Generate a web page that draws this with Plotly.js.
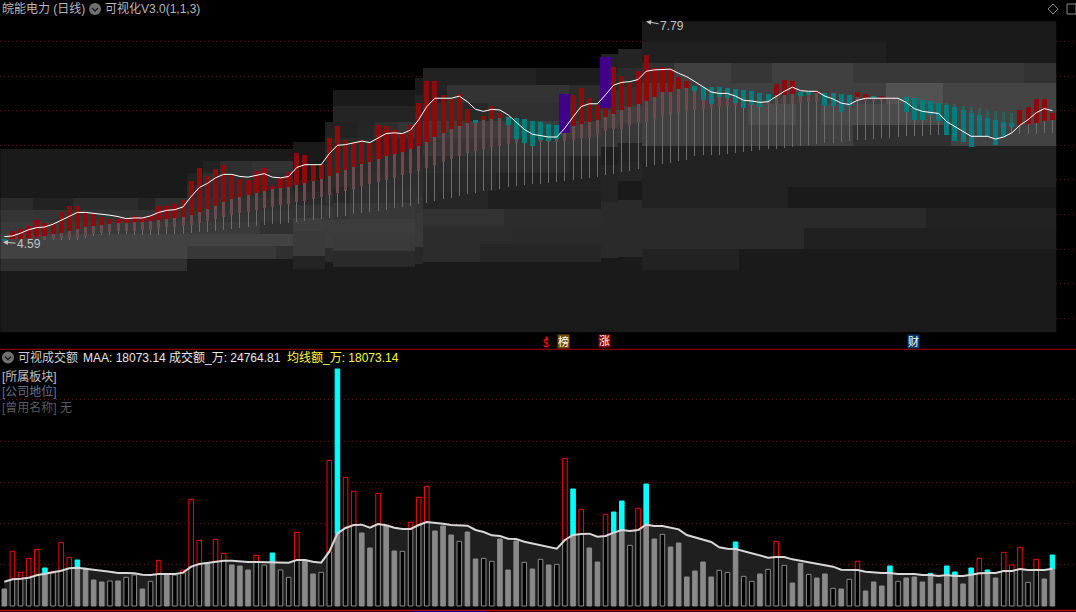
<!DOCTYPE html>
<html><head><meta charset="utf-8">
<script src="https://cdn.plot.ly/plotly-3.0.1.min.js"></script>
<style>html,body{margin:0;padding:0;background:#000;overflow:hidden}</style>
</head><body><div id="chart" style="width:1076px;height:612px"></div>
<script>
const bodyHigh=[4.65,4.76,4.79,4.83,4.92,4.88,4.88,5.04,5.12,5.12,
5.02,5.01,4.96,4.94,4.94,4.94,4.98,4.96,4.99,5.12,
5.12,5.15,5.21,5.48,5.67,5.56,5.66,5.72,5.57,5.51,
5.50,5.63,5.67,5.41,5.53,5.61,5.89,5.86,5.72,5.73,
6.11,6.28,6.08,6.05,6.08,6.03,6.29,6.28,6.22,6.18,
6.29,6.61,6.93,6.93,6.73,6.67,6.74,6.52,6.37,6.42,
6.57,6.47,6.41,6.39,6.38,6.35,6.34,6.31,6.29,6.74,
6.73,6.83,6.68,6.58,7.28,7.13,7.00,6.90,7.07,7.31,
7.12,7.13,7.10,6.99,6.93,6.86,6.84,6.84,6.84,6.83,
6.81,6.80,6.78,6.76,6.74,6.89,6.94,6.93,6.77,6.77,
6.78,6.76,6.76,6.74,6.73,6.77,6.74,6.71,6.71,6.68,
6.68,6.70,6.68,6.65,6.64,6.61,6.58,6.55,6.51,6.47,
6.44,6.39,6.37,6.34,6.32,6.51,6.55,6.67,6.67,6.47];
const bodyLow=[4.62,4.65,4.65,4.66,4.68,4.69,4.72,4.73,4.76,4.79,
4.82,4.83,4.85,4.86,4.88,4.88,4.89,4.89,4.91,4.92,
4.94,4.95,4.96,4.99,5.04,5.08,5.12,5.18,5.22,5.25,
5.28,5.31,5.34,5.37,5.38,5.40,5.43,5.46,5.48,5.51,
5.56,5.60,5.64,5.69,5.73,5.76,5.80,5.85,5.87,5.90,
5.95,5.99,6.05,6.12,6.18,6.24,6.28,6.32,6.32,6.37,
6.38,6.39,6.29,6.09,6.03,5.99,6.08,6.06,6.09,6.18,
6.28,6.31,6.34,6.37,6.41,6.45,6.51,6.55,6.60,6.64,
6.70,6.77,6.77,6.81,6.83,6.78,6.65,6.60,6.70,6.68,
6.61,6.54,6.58,6.55,6.64,6.73,6.73,6.74,6.71,6.73,
6.76,6.57,6.57,6.48,6.57,6.70,6.68,6.68,6.68,6.67,
6.67,6.48,6.37,6.37,6.44,6.35,6.15,6.06,6.05,5.98,
6.12,6.12,6.00,6.12,6.26,6.29,6.31,6.32,6.35,6.37];
const shadowLow=[4.62,4.65,4.65,4.66,4.68,4.63,4.65,4.66,4.66,4.66,
4.69,4.72,4.73,4.75,4.76,4.76,4.76,4.78,4.78,4.81,
4.82,4.82,4.83,4.85,4.88,4.91,4.94,4.96,4.99,5.02,
5.04,5.07,5.09,5.11,5.14,5.15,5.18,5.20,5.22,5.25,
5.28,5.31,5.34,5.37,5.41,5.44,5.47,5.50,5.53,5.57,
5.60,5.63,5.67,5.72,5.76,5.80,5.85,5.89,5.92,5.95,
5.98,5.99,6.02,6.03,6.03,5.99,6.05,6.05,6.05,6.06,
6.08,6.11,6.12,6.15,6.21,6.24,6.24,6.28,6.34,6.34,
6.38,6.41,6.44,6.47,6.50,6.51,6.52,6.54,6.55,6.57,
6.57,6.54,6.58,6.55,6.58,6.58,6.60,6.60,6.61,6.63,
6.63,6.57,6.57,6.48,6.57,6.65,6.64,6.64,6.64,6.64,
6.67,6.48,6.37,6.37,6.44,6.35,6.15,6.06,6.05,5.98,
6.12,6.12,6.00,6.12,6.26,6.29,6.31,6.32,6.35,6.37];
const wickLow=[4.62,4.65,4.65,4.66,4.68,4.63,4.63,4.63,4.63,4.63,
4.66,4.69,4.70,4.70,4.72,4.72,4.70,4.70,4.70,4.70,
4.72,4.72,4.72,4.73,4.75,4.75,4.76,4.78,4.79,4.81,
4.82,4.83,4.85,4.86,4.86,4.88,4.89,4.91,4.92,4.94,
4.95,4.96,4.98,5.01,5.02,5.04,5.05,5.07,5.09,5.11,
5.12,5.15,5.17,5.19,5.22,5.24,5.27,5.30,5.31,5.34,
5.35,5.37,5.40,5.41,5.43,5.44,5.44,5.46,5.47,5.49,
5.50,5.51,5.53,5.54,5.57,5.59,5.61,5.63,5.66,5.69,
5.72,5.73,5.74,5.77,5.79,5.85,5.86,5.86,5.86,5.87,
5.89,5.90,5.92,5.93,5.95,5.95,5.96,5.98,5.99,6.00,
6.02,6.03,6.03,6.05,6.06,6.08,6.08,6.09,6.11,6.11,
6.12,6.13,6.13,6.13,6.15,6.15,6.15,6.06,6.05,5.98,
6.12,6.12,6.00,6.12,6.18,6.16,6.16,6.16,6.18,6.18];
const upperDays=[116,117,118,119,120,121,122,123,124];
const upperHigh=[6.61,6.60,6.57,6.55,6.54,6.51,6.50,6.48,6.47];
const fallingDays=[0,58,62,63,64,65,66,67,68,85,86,87,88,89,90,91,92,93,94,98,99,101,102,103,104,107,110,111,112,113,114,115,116,117,118,119,120,121,122,123,124];
const surgeDays=[69,74];
const surgeHigh=[6.74,7.28];
const surgeLow=[6.18,6.54];
const priceLine=[4.68,4.69,4.73,4.78,4.81,4.82,4.86,4.92,4.98,5.03,
5.03,5.02,5.01,4.99,4.97,4.94,4.95,4.95,4.98,5.03,
5.06,5.07,5.11,5.26,5.39,5.45,5.53,5.58,5.58,5.55,
5.54,5.57,5.59,5.54,5.53,5.55,5.68,5.72,5.72,5.72,
5.88,6.00,6.01,6.04,6.06,6.04,6.11,6.17,6.18,6.17,
6.22,6.37,6.56,6.68,6.68,6.68,6.71,6.63,6.52,6.49,
6.52,6.51,6.44,6.34,6.23,6.16,6.14,6.12,6.12,6.25,
6.41,6.56,6.60,6.60,6.73,6.87,6.91,6.92,6.95,7.07,
7.09,7.10,7.10,7.04,6.99,6.92,6.84,6.77,6.75,6.75,
6.71,6.65,6.64,6.62,6.63,6.71,6.78,6.84,6.79,6.78,
6.78,6.71,6.67,6.61,6.59,6.65,6.68,6.68,6.68,6.69,
6.68,6.62,6.53,6.49,6.48,6.46,6.34,6.27,6.20,6.13,
6.13,6.13,6.09,6.12,6.18,6.29,6.37,6.47,6.53,6.50];
const turnover=[8250,26540,16340,23140,27500,18450,16830,30900,23620,22330,
18280,12620,11650,12140,12140,13910,15050,8250,11970,22170,
15050,15050,17470,51780,31870,20710,32360,25560,19900,19420,
17470,24590,19900,25730,17470,13910,35760,22330,15530,16340,
70710,115040,62450,55660,35430,28150,54690,38830,26700,26540,
40610,52750,58090,36410,38830,34460,31390,35920,22810,23140,
21680,32520,17470,31550,21200,17960,22650,19900,20230,71680,
56790,46920,28150,21360,44500,45630,50970,29450,47410,59220,
32520,34790,28640,30580,14080,16990,21360,14080,17310,16340,
31070,14400,11970,15530,17800,31390,19740,11160,20710,15370,
13590,15530,8580,8250,12940,21680,7280,11650,9710,19420,
11970,13590,14080,11650,15860,10680,19420,16500,10680,18450,
23140,17470,13590,26050,19900,28480,11490,22650,13110,24764.81];
const turnoverMA=[11810,12940,13270,13750,14890,15690,16180,17150,18280,18610,
18120,17470,17150,16670,16020,16020,15860,15210,15050,15530,
15530,15530,16180,19090,20390,21030,21680,22000,22000,21520,
21360,21360,21360,21360,21030,21030,22330,22330,21520,21030,
26370,35270,37860,39320,39480,38020,39800,39160,38020,37380,
37380,39320,40770,40450,39960,39320,38990,38990,36890,35920,
34300,33980,32680,32520,31230,30420,29610,28800,27830,32040,
34460,34950,35110,33650,33980,35600,36890,36410,36890,39480,
38830,38830,38020,37210,34460,33330,32360,31070,28480,27830,
27670,26700,25560,24430,23460,23780,23780,22650,22000,21360,
20550,19900,19090,17640,17470,17470,16670,16180,16020,16020,
15530,15530,15530,15050,15050,14560,15050,14560,14560,15210,
15860,16020,16020,16990,16990,17960,17470,17470,17470,18073.14];
const volumeDir=['d','u','u','u','u','d','u','u','u','d','d','d','d','u','d','u','u','d','u','u','d','u','u','u','u','d','u','u','d','d','d','u','u','d','u','u','u','d','d','u','u','d','u','u','d','d','u','d','d','u','u','u','u','d','d','d','u','d','d','u','u','d','d','d','u','d','u','d','u','u','d','u','d','d','u','d','d','u','u','d','d','u','d','d','d','d','d','d','u','u','d','u','u','d','u','u','u','d','d','u','d','d','u','d','u','u','d','d','d','d','u','d','d','d','d','d','d','d','d','d','u','d','d','u','u','u','u','u','d','d'];
// price-bin heat background: zones of days, each split into 15 bins from zoneTop to binFloor
const binFloor=3.30;
const binCount=15;
const zoneStart=[0,36,40,41,51,52,74,76,79];
const zoneEnd=[36,40,41,51,52,74,76,79,130];
const zoneTop=[5.95,6.05,6.34,6.80,6.97,7.12,7.31,7.39,7.79];
const baseShade=0x1a;
// [zone, bin counted from top, first day, end day, grey level]
const binShades=[
[0,1,25,27,0x22],[0,1,27,31,0x2e],[0,1,31,36,0x33],[0,2,23,25,0x22],[0,2,25,36,0x2e],[0,3,23,36,0x2c],
[0,4,0,4,0x2b],[0,4,4,9,0x22],[0,4,9,17,0x2c],[0,4,17,19,0x24],[0,4,19,36,0x30],[0,5,0,36,0x34],
[0,6,0,32,0x3a],[0,6,32,36,0x30],[0,7,0,36,0x42],[0,8,0,23,0x42],[0,8,23,34,0x38],[0,8,34,36,0x30],[0,9,0,23,0x30],
[1,3,36,40,0x24],[1,4,36,40,0x2a],[1,5,36,40,0x34],[1,6,36,40,0x3e],[1,7,36,40,0x3a],[1,8,36,40,0x3a],[1,9,36,40,0x24],
[2,0,40,41,0x20],[2,1,40,41,0x24],[2,2,40,41,0x2a],[2,3,40,41,0x2a],[2,4,40,41,0x2a],[2,5,40,41,0x30],[2,6,40,41,0x38],[2,7,40,41,0x3c],[2,8,40,41,0x3c],[2,9,40,41,0x2c],
[3,1,41,51,0x24],[3,2,41,44,0x22],[3,2,44,46,0x26],[3,2,46,49,0x2e],[3,2,49,51,0x34],[3,3,41,51,0x2a],[3,4,41,51,0x2c],[3,5,41,51,0x2e],
[3,6,41,43,0x28],[3,6,43,51,0x30],[3,7,41,43,0x34],[3,7,43,51,0x38],[3,8,41,51,0x3c],[3,9,41,51,0x3a],[3,10,41,51,0x2a],
[4,1,51,52,0x24],[4,2,51,52,0x2c],[4,3,51,52,0x2c],[4,4,51,52,0x2c],[4,5,51,52,0x2e],[4,6,51,52,0x30],[4,7,51,52,0x34],[4,8,51,52,0x38],[4,9,51,52,0x38],[4,10,51,52,0x28],
[5,0,52,66,0x22],[5,0,66,74,0x1c],[5,1,52,55,0x24],[5,1,55,70,0x33],[5,1,70,74,0x2c],[5,2,52,57,0x30],[5,2,57,60,0x28],[5,2,60,74,0x30],
[5,3,52,74,0x3c],[5,4,52,74,0x36],[5,5,52,70,0x2c],[5,5,70,74,0x24],[5,6,52,61,0x28],[5,6,61,74,0x22],[5,7,52,60,0x26],[5,7,60,74,0x1e],
[5,8,52,62,0x32],[5,8,62,74,0x2c],[5,9,52,63,0x2c],[5,9,63,74,0x2a],[5,10,52,59,0x2c],[5,10,59,74,0x26],
[6,0,74,76,0x22],[6,1,74,76,0x2a],[6,2,74,76,0x34],[6,3,74,76,0x40],[6,4,74,76,0x36],[6,5,74,76,0x1e],[6,6,74,76,0x24],[6,7,74,76,0x24],[6,8,74,76,0x2a],[6,9,74,76,0x2a],[6,10,74,76,0x2a],
[7,0,76,79,0x24],[7,1,76,79,0x2c],[7,2,76,79,0x34],[7,3,76,79,0x40],[7,4,76,79,0x38],[7,5,76,79,0x22],[7,6,76,79,0x26],[7,8,76,79,0x2a],[7,9,76,79,0x2a],[7,10,76,79,0x2a],
[8,1,79,109,0x20],[8,2,79,83,0x30],[8,2,83,90,0x40],[8,2,90,95,0x36],[8,2,95,105,0x40],[8,2,105,126,0x38],[8,2,126,130,0x32],
[8,3,79,109,0x40],[8,3,109,116,0x52],[8,3,116,130,0x44],[8,4,79,92,0x40],[8,4,92,98,0x4c],[8,4,98,101,0x42],[8,4,101,116,0x4a],[8,4,116,130,0x44],
[8,5,79,105,0x40],[8,5,105,117,0x30],[8,5,117,130,0x42],[8,6,79,130,0x22],[8,7,79,130,0x22],[8,8,79,97,0x22],
[8,9,79,114,0x2a],[8,9,114,130,0x22],[8,10,79,99,0x2a],[8,10,99,130,0x20],[8,11,79,91,0x22]];
const priceGrid=[3.5,4,4.5,5,5.5,6,6.5,7,7.5];
const turnoverGrid=[20000,40000,60000,80000,100000];
const monthTicks=[15,20,25,30,49,50,60,69,74,79,85,90,95,101,107,112,118];

const days=bodyHigh.map((_,i)=>i);
const RED='#8f0a0a',TEAL='#007d7d',PURPLE='#42008a';
const isFall=new Set(fallingDays);
const heatY=[];for(let p=binFloor+0.00725;p<7.80;p+=0.01445)heatY.push(p);
const heatZ=heatY.map(()=>days.map(()=>null));
heatY.forEach((p,r)=>{
  zoneStart.forEach((s,zi)=>{
    if(p>zoneTop[zi])return;
    for(let d=s;d<zoneEnd[zi];d++)heatZ[r][d]=baseShade;
  });
});
binShades.forEach(([zi,bin,from,to,shade])=>{
  const h=(zoneTop[zi]-binFloor)/binCount, hi=zoneTop[zi]-bin*h, lo=hi-h;
  heatY.forEach((p,r)=>{ if(p<=hi&&p>lo)for(let d=from;d<to;d++)heatZ[r][d]=shade; });
});
const W=1076,H=612;
const px=x=>x/W, py=y=>1-y/H;
const barT=(x,base,top,color,width,yaxis,extra)=>Object.assign({type:'bar',x,base,y:top.map((t,i)=>t-base[i]),width,marker:{color,line:{width:0}},yaxis:yaxis||'y',hoverinfo:'skip'},extra||{});
const rising=days.filter(i=>turnover[i]>turnoverMA[i]);
const traces=[
 {type:'heatmap',x:days,y:heatY,z:heatZ,zmin:0,zmax:255,zsmooth:false,showscale:false,hoverinfo:'skip',colorscale:[[0,'rgb(0,0,0)'],[1,'rgb(255,255,255)']]},
 barT(days,wickLow,shadowLow,'#6c6c6c',0.13),
 barT(days,shadowLow,bodyLow,'#6b4b4d',0.37),
 barT(upperDays,upperDays.map(d=>bodyHigh[d]),upperHigh,'#2f5e5e',0.37),
 barT(days,bodyLow,bodyHigh,days.map(d=>isFall.has(d)?TEAL:RED),0.61),
 barT(surgeDays,surgeLow,surgeHigh,PURPLE,1.35),
 {type:'scatter',mode:'lines',x:days,y:priceLine,line:{color:'#ffffff',width:1},hoverinfo:'skip'},
 {type:'scatter',mode:'none',x:days,y:turnoverMA,fill:'tozeroy',fillcolor:'#1f1f1f',yaxis:'y2',hoverinfo:'skip'},
 {type:'bar',x:days,y:turnover.map((v,i)=>Math.min(v,turnoverMA[i])),width:0.56,yaxis:'y3',hoverinfo:'skip',
  marker:{color:volumeDir.map(k=>k==='u'?'#000000':'#8a8a8a'),line:{color:'#8a8a8a',width:1}}},
 {type:'bar',x:rising,base:rising.map(i=>turnoverMA[i]),y:rising.map(i=>turnover[i]-turnoverMA[i]),
  width:0.56,yaxis:'y3',hoverinfo:'skip',
  marker:{color:rising.map(i=>volumeDir[i]==='u'?'#000000':'#00ffff'),
          line:{color:rising.map(i=>volumeDir[i]==='u'?'#ff0000':'#00ffff'),width:1}}},
 {type:'scatter',mode:'lines',x:days,y:turnoverMA,line:{color:'#d8d8d8',width:2},yaxis:'y3',hoverinfo:'skip'}
];
const FONT='"Liberation Sans","Noto Sans CJK SC",sans-serif';
const label=(x,y,text,color,size,extra)=>Object.assign({xref:'paper',yref:'paper',x:px(x),y:py(y),xanchor:'left',yanchor:'middle',text,showarrow:false,font:{family:FONT,size:size||12,color:color||'#c4c4c4'}},extra||{});
const badge=(x,text,bg,color)=>label(x,341,text,color||'#ffffff',11,{xanchor:'center',bgcolor:bg,borderpad:0});
const annotations=[
 label(0,9,'皖能电力 (日线)','#b8b8b8',12),
 label(103,9,'可视化V3.0(1,1,3)','#b8b8b8',12),
 label(16,357.5,'可视成交额','#d0d0d0',12),
 label(81,357.5,'MAA: 18073.14','#e8e8e8',12),
 label(167,357.5,'成交额_万: 24764.81','#e8e8e8',12),
 label(285,357.5,'均线额_万: 18073.14','#ffff33',12),
 label(0,377,'[所属板块]','#c0c0c0',12),
 label(0,392,'[公司地位]','#64748c',12),
 label(0,407,'[曾用名称] 无','#5a5a5a',12),
 label(546,343,'$','#ff1010',10,{xanchor:'center'}),
 label(546,337,'▲','#ff1010',5,{xanchor:'center'}),
 badge(563.5,'榜','#7a4a08'),
 badge(604.5,'涨','#84000f'),
 badge(913,'财','#0c3a70'),
 {x:-0.16,y:4.60,xref:'x',yref:'y',text:'4.59',font:{family:FONT,size:12,color:'#c4c4c4'},showarrow:true,arrowhead:2,arrowsize:1,arrowwidth:1,arrowcolor:'#c4c4c4',ax:26,ay:2,xanchor:'center',yanchor:'middle'},
 {x:79,y:7.79,xref:'x',yref:'y',text:'7.79',font:{family:FONT,size:12,color:'#c4c4c4'},showarrow:true,arrowhead:2,arrowsize:1,arrowwidth:1,arrowcolor:'#c4c4c4',ax:26,ay:5,xanchor:'center',yanchor:'middle'}
];
const circ=(cx,cy,r)=>({type:'circle',xref:'paper',yref:'paper',x0:px(cx-r),x1:px(cx+r),y0:py(cy+r),y1:py(cy-r),fillcolor:'#707070',line:{width:0}});
const chev=(cx,cy)=>({type:'path',xref:'paper',yref:'paper',path:`M ${px(cx-3)} ${py(cy-1)} L ${px(cx)} ${py(cy+2)} L ${px(cx+3)} ${py(cy-1)}`,line:{color:'#1a1a1a',width:1.4}});
const shapes=[
 {type:'line',xref:'paper',yref:'paper',x0:0,x1:1,y0:py(349.3),y1:py(349.3),line:{color:'#a80000',width:1}},
 {type:'line',xref:'paper',yref:'paper',x0:0,x1:1,y0:py(610.5),y1:py(610.5),line:{color:'#c00000',width:1.5}},
 {type:'line',xref:'paper',yref:'paper',x0:px(410),x1:px(488),y0:py(611.6),y1:py(611.6),line:{color:'#000090',width:1}},
 circ(95,9,6),chev(95,9),circ(8,357.5,6),chev(8,357.5),
 {type:'path',xref:'paper',yref:'paper',path:`M ${px(1048)} ${py(9)} L ${px(1053)} ${py(4)} L ${px(1058)} ${py(9)} L ${px(1053)} ${py(14)} Z`,line:{color:'#8a8a8a',width:1}},
 {type:'rect',xref:'paper',yref:'paper',x0:px(1067),x1:px(1076),y0:py(14),y1:py(4),line:{color:'#8a8a8a',width:1}}
];
const gridAxis=(domain,range,vals)=>({domain,range,tickmode:'array',tickvals:vals,showticklabels:false,ticks:'',showgrid:true,gridcolor:'#6a1010',griddash:'1px,3px',gridwidth:1,zeroline:false,showline:false,fixedrange:true});
const layout={
 width:W,height:H,margin:{l:0,r:0,t:0,b:0,pad:0},paper_bgcolor:'#000',plot_bgcolor:'#000',showlegend:false,barmode:'overlay',bargap:0,
 xaxis:{domain:[0,1],range:[-0.529,131.9],anchor:'free',position:1-610.5/H,showgrid:false,zeroline:false,showline:false,
        ticks:'outside',ticklen:1,tickcolor:'#b00000',tickmode:'array',tickvals:monthTicks,showticklabels:false,fixedrange:true},
 yaxis:gridAxis([1-349/H,1],[3.0564,8.0997],priceGrid),
 yaxis2:gridAxis([0,262/H],[-2912,124262],turnoverGrid),
 yaxis3:{overlaying:'y2',domain:[0,262/H],range:[-2912,124262],showgrid:false,zeroline:false,showticklabels:false,ticks:'',showline:false,fixedrange:true},
 annotations,shapes
};
Plotly.newPlot('chart',traces,layout,{displayModeBar:false,staticPlot:true});
</script></body></html>
